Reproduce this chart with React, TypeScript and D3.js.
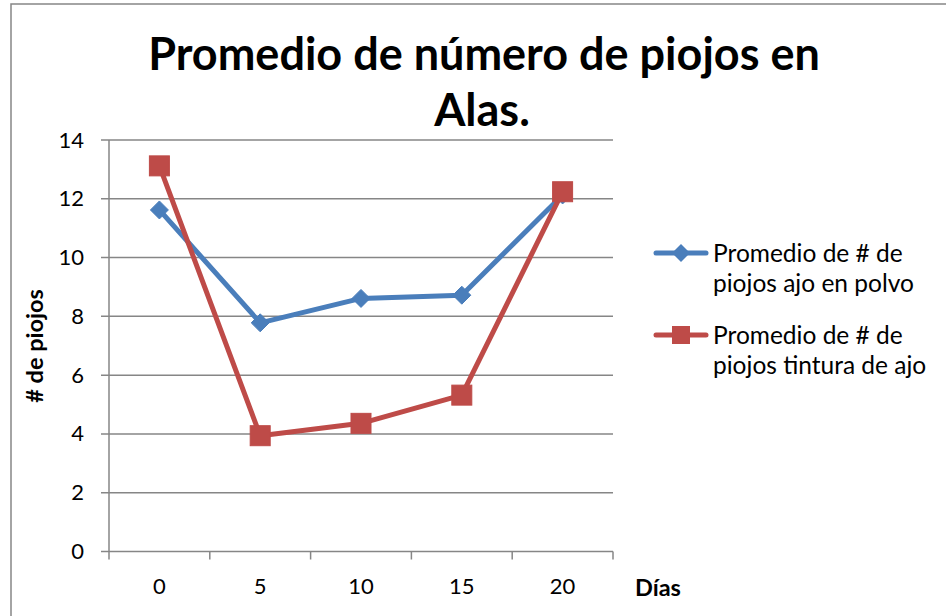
import React from "react";
import * as d3 from "d3";

const categories = ["0", "5", "10", "15", "20"];
const seriesNames = ["Promedio de # de piojos ajo en polvo", "Promedio de # de piojos tintura de ajo"];
const legendLines = [["Promedio de # de", "piojos ajo en polvo"], ["Promedio de # de", "piojos tintura de ajo"]];
const polvo = [11.62, 7.78, 8.61, 8.72, 12.13];
const tintura = [13.12, 3.94, 4.36, 5.32, 12.24];
const yTicks = [0, 2, 4, 6, 8, 10, 12, 14];
const colors = ["#4A7EBB", "#BE4B48"];

const W = 946, H = 616;
const FONT = "Lato, 'Open Sans', sans-serif";

export default function App() {
  const left = 109, right = 613, top = 140, bottom = 551.5;
  const x = d3.scaleBand().domain(categories).range([left, right]).padding(0);
  const y = d3.scaleLinear().domain([0, 14]).range([bottom, top]);
  const line = d3.line<number>().x((_, i) => x(categories[i])! + x.bandwidth() / 2).y(d => y(d));
  const grid = "#868686";
  const series = [polvo, tintura];
  const xTickPos = [...categories.map(c => x(c)!), right];

  const diamond = (cx: number, cy: number, r: number) => `M${cx},${cy - r}L${cx + r},${cy}L${cx},${cy + r}L${cx - r},${cy}Z`;

  return (
    <svg width={W} height={H} style={{ position: "absolute", left: 0, top: 0, background: "#fff" }} fontFamily={FONT}>
      <title>{seriesNames.join(" / ")}</title>
      <rect x={0} y={0} width={W} height={H} fill="#fff" />
      {/* chart border */}
      <path d={`M11,${H + 5}V4H${W + 5}`} fill="none" stroke={grid} strokeWidth={1.5} />
      {/* title */}
      <text x={484} y={70} textAnchor="middle" fontSize={45} fontWeight="bold" fill="#000">Promedio de número de piojos en</text>
      <text x={482} y={126} textAnchor="middle" fontSize={45} fontWeight="bold" fill="#000">Alas.</text>
      {/* gridlines */}
      {yTicks.map(t => (
        <g key={t}>
          <line x1={left - 8} x2={right} y1={y(t)} y2={y(t)} stroke={grid} strokeWidth={1.5} />
          <text x={84} y={y(t) + 7.5} textAnchor="end" fontSize={22} fill="#000">{t}</text>
        </g>
      ))}
      {/* axes */}
      <line x1={left} x2={left} y1={top} y2={bottom} stroke={grid} strokeWidth={1.5} />
      {xTickPos.map((p, i) => (
        <line key={i} x1={p} x2={p} y1={bottom} y2={bottom + 8} stroke={grid} strokeWidth={1.5} />
      ))}
      {categories.map(c => (
        <text key={c} x={x(c)! + x.bandwidth() / 2} y={594} textAnchor="middle" fontSize={22} fill="#000">{c}</text>
      ))}
      {/* axis titles */}
      <text transform={`translate(43,346) rotate(-90)`} textAnchor="middle" fontSize={23.5} fontWeight="bold" fill="#000"># de piojos</text>
      <text x={635} y={596} fontSize={23.5} fontWeight="bold" fill="#000">Días</text>
      {/* series */}
      {series.map((s, si) => (
        <g key={si}>
          <path d={line(s)!} fill="none" stroke={colors[si]} strokeWidth={5} strokeLinejoin="round" strokeLinecap="round" />
          {s.map((v, i) => {
            const cx = x(categories[i])! + x.bandwidth() / 2, cy = y(v);
            return si === 0
              ? <path key={i} d={diamond(cx, cy, 9)} fill={colors[si]} stroke={colors[si]} strokeWidth={1} />
              : <rect key={i} x={cx - 10} y={cy - 10} width={20} height={20} fill={colors[si]} stroke={colors[si]} strokeWidth={1} />;
          })}
        </g>
      ))}
      {/* legend */}
      {legendLines.map((ls, li) => {
        const ly = li === 0 ? 253 : 335;
        return (
          <g key={li}>
            <line x1={656} x2={706} y1={ly} y2={ly} stroke={colors[li]} strokeWidth={5} strokeLinecap="round" />
            {li === 0
              ? <path d={diamond(681, ly, 9)} fill={colors[li]} />
              : <rect x={672} y={ly - 9} width={18} height={18} fill={colors[li]} />}
            {ls.map((t, k) => (
              <text key={k} x={713} y={ly + 9 + k * 30} fontSize={24.5} fill="#000">{t}</text>
            ))}
          </g>
        );
      })}
    </svg>
  );
}
